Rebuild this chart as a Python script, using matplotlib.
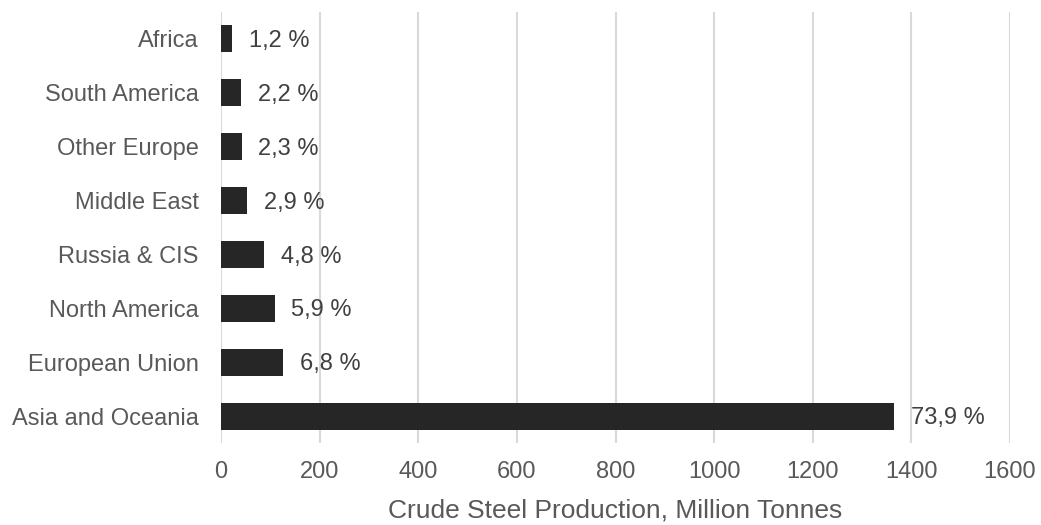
import matplotlib
matplotlib.use("Agg")
import matplotlib.pyplot as plt

regions = ["Africa", "South America", "Other Europe", "Middle East",
           "Russia & CIS", "North America", "European Union", "Asia and Oceania"]
production = [22, 41, 42, 53, 88, 109, 126, 1365]
shares = ["1,2 %", "2,2 %", "2,3 %", "2,9 %", "4,8 %", "5,9 %", "6,8 %", "73,9 %"]
xticks = [0, 200, 400, 600, 800, 1000, 1200, 1400, 1600]

plt.rcParams["font.family"] = ["Liberation Sans", "DejaVu Sans"]

fig = plt.figure(figsize=(10.41, 5.25), dpi=100)
ax = fig.add_axes([221 / 1041, 1 - 443 / 525, (1010 - 221) / 1041, (443 - 12) / 525])

ypos = list(range(len(regions)))
ax.barh(ypos, production, height=0.5, color="#262626", zorder=3)

for y, v, s in zip(ypos, production, shares):
    ax.annotate(s, xy=(v, y), xytext=(12, -1.5), textcoords="offset points",
                va="center", ha="left", fontsize=17, color="#404040")

ax.set_ylim(-0.5, len(regions) - 0.5)
ax.invert_yaxis()
ax.set_xlim(0, 1600)
ax.set_xticks(xticks)
ax.set_yticks(ypos)
ax.set_yticklabels(regions)
ax.tick_params(axis="both", length=0, labelsize=17, labelcolor="#595959")
ax.tick_params(axis="x", pad=13)
ax.tick_params(axis="y", pad=16)

ax.grid(axis="x", color="#d9d9d9", linewidth=1.5, zorder=0)
for sp in ax.spines.values():
    sp.set_visible(False)

ax.set_xlabel("Crude Steel Production, Million Tonnes", fontsize=19,
              color="#595959", labelpad=11)

fig.savefig("out.png", dpi=100)
